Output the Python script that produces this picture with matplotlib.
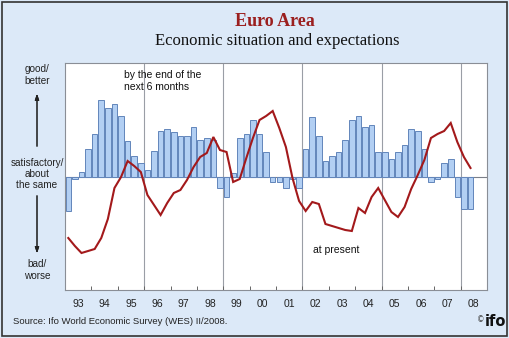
import numpy as np
import matplotlib
matplotlib.use("Agg")
from matplotlib import pyplot as plt
from matplotlib.patches import Rectangle

# quarterly survey results, I/1993 .. II/2008 (index units relative to "satisfactory")
expectations = [
    -34, -2, 5, 28,      # 1993
    43, 77, 69, 73,      # 1994
    61, 36, 21, 14,      # 1995
    7, 26, 46, 48,       # 1996
    45, 41, 41, 50,      # 1997
    37, 39, 37, -11,     # 1998
    -20, 4, 39, 43,      # 1999
    57, 43, 25, -5,      # 2000
    -5, -11, -2, -11,    # 2001
    28, 60, 41, 16,      # 2002
    21, 25, 37, 57,      # 2003
    61, 50, 52, 25,      # 2004
    25, 18, 25, 32,      # 2005
    48, 46, 28, -5,      # 2006
    -2, 14, 18, -20,     # 2007
    -32, -32,            # 2008
]
present = [
    -61, -69, -76, -74,
    -72, -61, -42, -11,
    0, 16, 11, 5,
    -18, -28, -38, -26,
    -16, -13, -3, 10,
    20, 24, 40, 27,
    25, -5, -2, 19,
    39, 57, 61, 66,
    49, 30, -1, -24,
    -34, -25, -27, -47,
    -49, -51, -53, -54,
    -31, -36, -20, -11,
    -23, -35, -40, -30,
    -12, 2, 17, 39,
    43, 46, 54, 35,
    20, 9,
]
year_labels = ["93", "94", "95", "96", "97", "98", "99", "00",
               "01", "02", "03", "04", "05", "06", "07", "08"]
first_year = 1993

W, H = 510, 338
bg = "#dce9f8"
fig = plt.figure(figsize=(W / 100, H / 100), dpi=100, facecolor=bg)

def fx(x):
    return x / W

def fy(y):
    return 1 - y / H

ax = fig.add_axes([fx(65), fy(290), fx(487) - fx(65), fy(63) - fy(290)])
ax.set_facecolor("white")

n = len(expectations)
xq = first_year + (np.arange(n) + 0.5) / 4.0
ax.bar(xq, expectations, width=0.21, color="#b2cff3", edgecolor="#6285bb",
       linewidth=0.7, zorder=2)
ax.plot(xq, present, color="#a3191b", linewidth=1.5, zorder=3,
        solid_joinstyle="miter")

ax.axhline(0, color="#7a7f88", linewidth=0.8, zorder=1)
for yr in range(1996, 2009, 3):
    ax.axvline(yr, color="#9a9ea6", linewidth=0.8, zorder=1)

ax.set_xlim(first_year, first_year + len(year_labels))
ax.set_ylim(-113, 114)
ax.set_yticks([])
ax.set_xticks(np.arange(first_year + 1, first_year + len(year_labels)))
ax.set_xticklabels([])
ax.tick_params(axis="x", direction="in", length=3, color="#666666", width=0.7)
for s in ax.spines.values():
    s.set_color("#8a8e96")
    s.set_linewidth(0.8)

for k, lab in enumerate(year_labels):
    ax.text(first_year + k + 0.5, -0.06, lab, transform=ax.get_xaxis_transform(),
            ha="center", va="center", fontsize=7.5, color="#222222",
            family="Liberation Sans")

ax.text(first_year + 2.25, 96, "by the end of the\nnext 6 months", fontsize=7.5,
        family="Liberation Sans", va="center", ha="left", linespacing=1.15,
        color="#111111")
ax.text(2002.4, -73, "at present", fontsize=7.5, family="Liberation Sans",
        va="center", ha="left", color="#111111")

# titles
fig.text(fx(275), fy(21), "Euro Area", ha="center", va="center", fontsize=13,
         fontweight="bold", color="#9b1f1f", family="Liberation Serif")
fig.text(fx(277), fy(41), "Economic situation and expectations", ha="center",
         va="center", fontsize=12, color="#111111", family="Liberation Serif")

# left scale description
lab_kw = dict(ha="center", va="center", fontsize=7.2, color="#222222",
              family="Liberation Sans", linespacing=1.15)
fig.text(fx(37), fy(75), "good/\nbetter", **lab_kw)
fig.text(fx(37), fy(174), "satisfactory/\nabout\nthe same", **lab_kw)
fig.text(fx(37), fy(270), "bad/\nworse", **lab_kw)
arr = dict(arrowstyle="-|>,head_length=0.35,head_width=0.12", color="#222222", lw=0.8)
fig.add_artist(plt.annotate("", xy=(fx(37), fy(91)), xytext=(fx(37), fy(149)),
                            xycoords="figure fraction", textcoords="figure fraction",
                            arrowprops=arr))
fig.add_artist(plt.annotate("", xy=(fx(37), fy(256)), xytext=(fx(37), fy(193)),
                            xycoords="figure fraction", textcoords="figure fraction",
                            arrowprops=arr))

fig.text(fx(13), fy(322), "Source: Ifo World Economic Survey (WES) II/2008.",
         ha="left", va="center", fontsize=6.8, color="#222222", family="Liberation Sans")
fig.text(fx(481), fy(320), "\u00a9", ha="center", va="center", fontsize=5.5,
         color="#444444", family="DejaVu Sans")
fig.text(fx(495), fy(322), "ifo", ha="center", va="center", fontsize=10.5,
         fontweight="heavy", color="#111111", family="DejaVu Sans")

fig.add_artist(Rectangle((fx(2), fy(336)), fx(505), fy(2) - fy(336), fill=False,
                         edgecolor="#333333", linewidth=1.2, transform=fig.transFigure))

fig.savefig("out.png", dpi=100, facecolor=bg)
